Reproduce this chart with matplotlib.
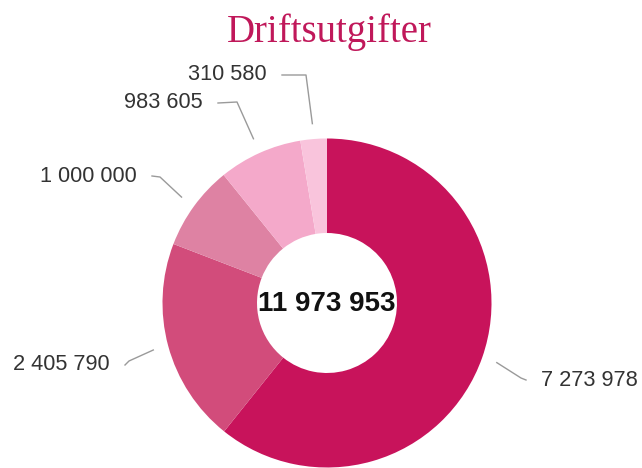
import numpy as np
import matplotlib.pyplot as plt

# expense amounts, largest first (clockwise from 12 o'clock)
values = [7273978, 2405790, 1000000, 983605, 310580]
colors = ['#c8135b', '#d24c7b', '#de82a3', '#f4a9ca', '#f9c4dc']
title = 'Driftsutgifter'

# layout (pixel coords): label anchor and leader elbow for each slice
label_pos = [(541, 380), (110, 365), (137, 176), (203, 103), (267, 75)]
label_ha = ['left', 'right', 'right', 'right', 'right']
elbows = [(521, 378), (129, 361), (160, 177), (237, 102), (306, 75)]


def fmt(v):
    return f'{v:,}'.replace(',', ' ')


fig = plt.figure(figsize=(6.42, 4.68), dpi=100)
ax = fig.add_axes([0, 0, 1, 1])

cx, cy = 327, 303
R, r_in = 164.5, 70

# y axis is inverted, so start at -90 and go counterclockwise in data space
wedges, _ = ax.pie(values, colors=colors, startangle=-90, counterclock=True,
                   center=(cx, cy), radius=R,
                   wedgeprops=dict(width=R - r_in, linewidth=0))

ax.set_xlim(0, 642)
ax.set_ylim(468, 0)
ax.set_aspect('equal')
ax.axis('off')

for w, v, (lx, ly), ha, (ex, ey) in zip(wedges, values, label_pos, label_ha, elbows):
    mid = np.deg2rad((w.theta1 + w.theta2) / 2)
    sx = cx + 1.094 * R * np.cos(mid)
    sy = cy + 1.094 * R * np.sin(mid)
    end_x = lx - 15 if ha == 'left' else lx + 15
    ax.plot([sx, ex, end_x], [sy, ey, ly], color='#9a9a9a', lw=1.0)
    ax.text(lx, ly, fmt(v), ha=ha, va='center', fontsize=15.7,
            family='Liberation Sans', color='#333333')

ax.text(cx, cy + 1, fmt(sum(values)), ha='center', va='center', fontsize=20,
        fontweight='bold', family='Liberation Sans', color='#111111')

ax.text(329, 42, title, ha='center', va='baseline', fontsize=28,
        family='Liberation Serif', color='#c0185a')

fig.savefig('out.png', dpi=100)
